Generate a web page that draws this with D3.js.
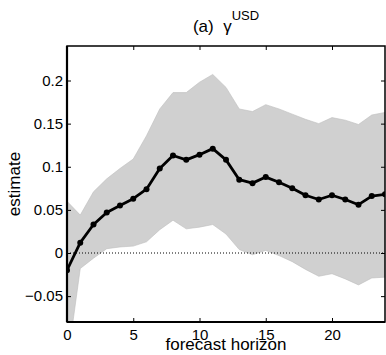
<!DOCTYPE html>
<html>
<head>
<meta charset="utf-8">
<script src="https://cdn.jsdelivr.net/npm/d3@7"></script>
<style>
  body { margin: 0; background: #fff; }
  text { font-family: "Liberation Sans", Arial, Helvetica, sans-serif; fill: #000; }
</style>
</head>
<body>
<div id="chart"></div>
<script>
// forecast horizons 0..24
const horizon = [0,1,2,3,4,5,6,7,8,9,10,11,12,13,14,15,16,17,18,19,20,21,22,23,24]
const estimate = [-0.020, 0.012, 0.033, 0.047, 0.055, 0.063, 0.074, 0.098, 0.113, 0.108, 0.114, 0.121, 0.108,
    0.085, 0.081, 0.088, 0.082, 0.075, 0.067, 0.062, 0.067, 0.062, 0.056, 0.066, 0.068]
const upper = [0.060, 0.044, 0.071, 0.086, 0.098, 0.109, 0.136, 0.167, 0.186, 0.186, 0.198, 0.207, 0.192,
    0.167, 0.164, 0.172, 0.167, 0.161, 0.155, 0.150, 0.157, 0.154, 0.149, 0.160, 0.163]
const lower = [-0.130, -0.018, -0.006, 0.005, 0.007, 0.008, 0.013, 0.027, 0.038, 0.028, 0.030, 0.033, 0.022,
    0.004, -0.002, 0.003, -0.003, -0.010, -0.019, -0.027, -0.024, -0.030, -0.037, -0.029, -0.028]

const xTicks = [0, 5, 10, 15, 20]
const yTicks = [-0.05, 0, 0.05, 0.1, 0.15, 0.2]
const yTickLabels = ['\u22120.05', '0', '0.05', '0.1', '0.15', '0.2']

const svgWidth = 386, svgHeight = 355
const margin = {top: 46, right: 1, bottom: 33, left: 67}
const innerWidth = svgWidth - margin.left - margin.right
const innerHeight = svgHeight - margin.top - margin.bottom

const svg = d3.select('#chart').append('svg').attr('width', svgWidth).attr('height', svgHeight)

const xScale = d3.scaleLinear().domain([0, 24]).range([0, innerWidth])
const yScale = d3.scaleLinear().domain([-0.08, 0.24]).range([innerHeight, 0])

const chartGroup = svg.append('g').attr('transform', `translate(${margin.left}, ${margin.top})`)

svg.append('defs').append('clipPath').attr('id', 'clip')
    .append('rect').attr('width', innerWidth).attr('height', innerHeight)

const plot = chartGroup.append('g').attr('clip-path', 'url(#clip)')

const data = horizon.map((h, i) => ({h, est: estimate[i], lo: lower[i], hi: upper[i]}))

// confidence band
plot.append('path')
    .datum(data)
    .attr('fill', '#d0d0d0')
    .attr('stroke', '#bdbdbd')
    .attr('stroke-width', 0.6)
    .attr('d', d3.area().x(d => xScale(d.h)).y0(d => yScale(d.lo)).y1(d => yScale(d.hi)))

// zero line
plot.append('line')
    .attr('x1', 0).attr('x2', innerWidth)
    .attr('y1', yScale(0)).attr('y2', yScale(0))
    .attr('stroke', '#000').attr('stroke-width', 1).attr('stroke-dasharray', '1,2')

plot.append('path')
    .datum(data)
    .attr('fill', 'none')
    .attr('stroke', '#000')
    .attr('stroke-width', 2.8)
    .attr('stroke-linejoin', 'round')
    .attr('d', d3.line().x(d => xScale(d.h)).y(d => yScale(d.est)))

plot.selectAll('circle.pt')
    .data(data)
    .join('circle')
    .attr('class', 'pt')
    .attr('cx', d => xScale(d.h))
    .attr('cy', d => yScale(d.est))
    .attr('r', 3)
    .attr('fill', '#000')

// axes, ticks pointing inward
const xAxisBottom = chartGroup.append('g')
    .attr('transform', `translate(0,${innerHeight})`)
    .call(d3.axisBottom(xScale).tickValues(xTicks).tickSizeInner(-4).tickSizeOuter(0).tickPadding(7).tickFormat(d3.format('d')))
chartGroup.append('g')
    .call(d3.axisTop(xScale).tickValues(xTicks).tickSizeInner(-4).tickSizeOuter(0).tickFormat(''))

const yAxisLeft = chartGroup.append('g')
    .call(d3.axisLeft(yScale).tickValues(yTicks).tickSizeInner(-4).tickSizeOuter(0).tickPadding(4)
        .tickFormat((d, i) => yTickLabels[i]))
chartGroup.append('g')
    .attr('transform', `translate(${innerWidth},0)`)
    .call(d3.axisRight(yScale).tickValues(yTicks).tickSizeInner(-4).tickSizeOuter(0).tickFormat(''))

chartGroup.selectAll('.domain').remove()
chartGroup.selectAll('.tick line').attr('stroke', '#000').attr('stroke-width', 1)
chartGroup.selectAll('.tick text').style('font-size', '15px').style('font-family', '"Liberation Sans", Arial, sans-serif')

// box
chartGroup.append('rect')
    .attr('width', innerWidth).attr('height', innerHeight)
    .attr('fill', 'none').attr('stroke', '#000').attr('stroke-width', 1.5)
chartGroup.append('line')
    .attr('x1', 0).attr('x2', 0).attr('y1', 0).attr('y2', innerHeight)
    .attr('stroke', '#000').attr('stroke-width', 2.2)
chartGroup.append('line')
    .attr('x1', 0).attr('x2', innerWidth).attr('y1', innerHeight).attr('y2', innerHeight)
    .attr('stroke', '#000').attr('stroke-width', 2.2)

// labels
svg.append('text')
    .attr('x', margin.left + innerWidth / 2)
    .attr('y', 350)
    .style('font-size', '17px')
    .style('text-anchor', 'middle')
    .text('forecast horizon')

svg.append('text')
    .attr('transform', `translate(20, ${margin.top + innerHeight / 2}) rotate(-90)`)
    .style('font-size', '17px')
    .style('text-anchor', 'middle')
    .text('estimate')

const title = svg.append('text')
    .attr('x', 226)
    .attr('y', 32)
    .style('font-size', '17px')
    .style('text-anchor', 'middle')
title.append('tspan').text('(a)\u00a0\u00a0\u03b3')
title.append('tspan').attr('dy', -12).style('font-size', '13px').text('USD')
</script>
</body>
</html>
